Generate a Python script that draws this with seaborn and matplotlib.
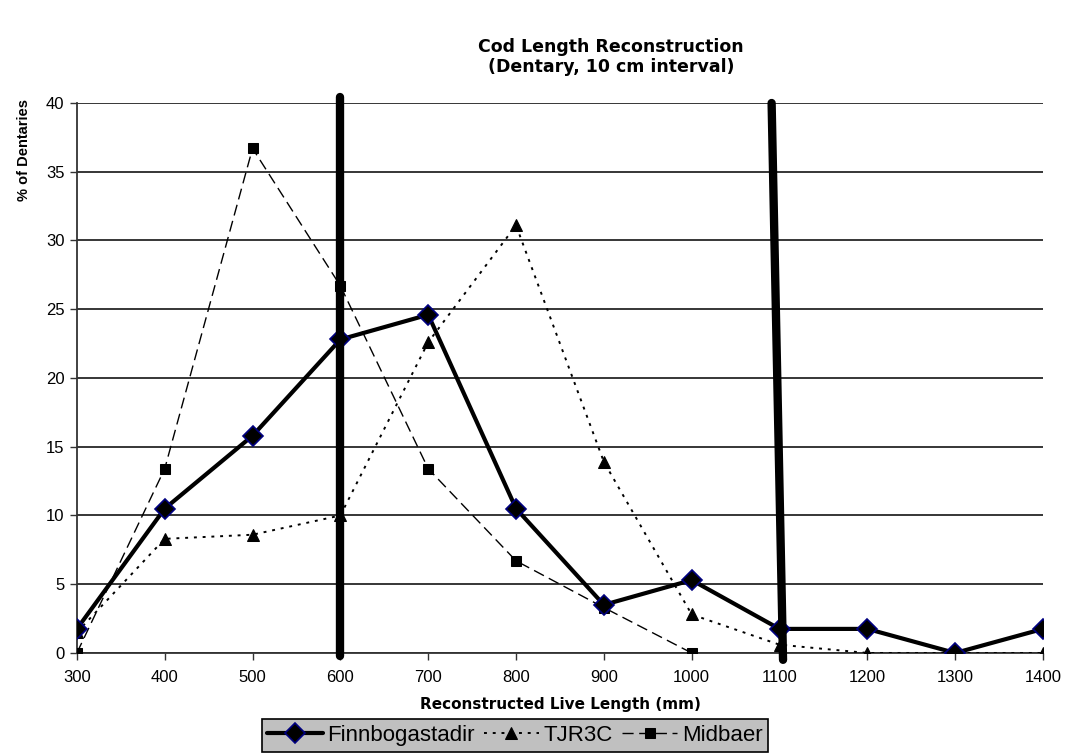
import matplotlib
matplotlib.use("Agg")
import matplotlib.pyplot as plt
import seaborn as sns
import numpy as np
import pandas as pd

lengths = [300, 400, 500, 600, 700, 800, 900, 1000, 1100, 1200, 1300, 1400]
finnbogastadir = [1.75, 10.5, 15.8, 22.8, 24.6, 10.5, 3.5, 5.3, 1.75, 1.75, 0.0, 1.75]
tjr3c = [1.5, 8.3, 8.6, 10.0, 22.6, 31.1, 13.9, 2.8, 0.6, 0.0, 0.0, 0.0]
midbaer = [0.0, 13.4, 36.7, 26.7, 13.4, 6.7, 3.3, 0.0, np.nan, np.nan, np.nan, np.nan]
marker_line1_x = [600, 600]
marker_line1_y = [40.4, -0.2]
marker_line2_x = [1091, 1104]
marker_line2_y = [40.0, -0.5]

sns.set_theme(style="white")
plt.rcParams['font.family'] = ['Liberation Sans', 'DejaVu Sans']
plt.rcParams['text.color'] = 'black'
plt.rcParams['axes.labelcolor'] = 'black'
plt.rcParams['xtick.color'] = 'black'
plt.rcParams['ytick.color'] = 'black'

fig = plt.figure(figsize=(10.68, 7.54), dpi=100)
ax = fig.add_axes([0.072, 0.134, 0.9046, 0.7294])

df = pd.DataFrame({"x": lengths, "F": finnbogastadir, "T": tjr3c, "M": midbaer})

sns.lineplot(data=df, x="x", y="F", ax=ax, color="black", linewidth=3,
             marker="D", markersize=10, markerfacecolor="black",
             markeredgecolor="#000080", markeredgewidth=1.2, label="Finnbogastadir", zorder=5)
sns.lineplot(data=df, x="x", y="T", ax=ax, color="black", linewidth=1.4,
             linestyle=(0, (1.5, 3)), marker="^", markersize=8,
             markerfacecolor="black", markeredgecolor="black", label="TJR3C", zorder=4)
sns.lineplot(data=df.dropna(), x="x", y="M", ax=ax, color="black", linewidth=1.0,
             linestyle=(0, (8, 4)), marker="s", markersize=6.5,
             markerfacecolor="black", markeredgecolor="black", label="Midbaer", zorder=4)

ax.plot(marker_line1_x, marker_line1_y, color="black", linewidth=6,
        solid_capstyle="round", zorder=6, clip_on=False)
ax.plot(marker_line2_x, marker_line2_y, color="black", linewidth=6,
        solid_capstyle="round", zorder=6, clip_on=False)

ax.set_xlim(300, 1400)
ax.set_ylim(0, 40)
ax.set_xticks(lengths)
ax.set_xticklabels([str(v) for v in lengths], fontsize=12)
ax.set_yticks(range(0, 41, 5))
ax.set_yticklabels([str(v) for v in range(0, 41, 5)], fontsize=12)
ax.yaxis.grid(True, color="black", linewidth=1.1)
ax.xaxis.grid(False)
for s in ["top", "right"]:
    ax.spines[s].set_visible(False)
for s in ["left", "bottom"]:
    ax.spines[s].set_color("#333333")
    ax.spines[s].set_linewidth(1.3)
ax.tick_params(axis="both", direction="out", length=5, width=1, color="#333333",
               bottom=True, left=True)
ax.tick_params(axis="x", pad=7)
ax.tick_params(axis="y", pad=4)

ax.set_xlabel("Reconstructed Live Length (mm)", fontsize=11, fontweight="bold",
              family="DejaVu Sans", labelpad=9)
ax.set_ylabel("% of Dentaries", fontsize=10.5, fontweight="bold")
ax.yaxis.set_label_coords(-0.047, 0.915)
fig.text(0.572, 0.924, "Cod Length Reconstruction\n(Dentary, 10 cm interval)",
         ha="center", va="center", fontsize=12.5, fontweight="bold",
         family="DejaVu Sans", linespacing=1.15)

ax.get_legend().remove()
handles, labels = ax.get_legend_handles_labels()
leg = fig.legend(handles[:3], labels[:3], loc="center", bbox_to_anchor=(0.482, 0.0245),
                 ncol=3, frameon=True, fontsize=16, handlelength=2.5, handletextpad=0.2,
                 columnspacing=0.4, borderpad=0.25, borderaxespad=0, fancybox=False)
leg.get_frame().set_facecolor("#c0c0c0")
leg.get_frame().set_edgecolor("black")
leg.get_frame().set_linewidth(1.2)
leg.get_frame().set_alpha(1)

fig.savefig("out.png", dpi=100)
